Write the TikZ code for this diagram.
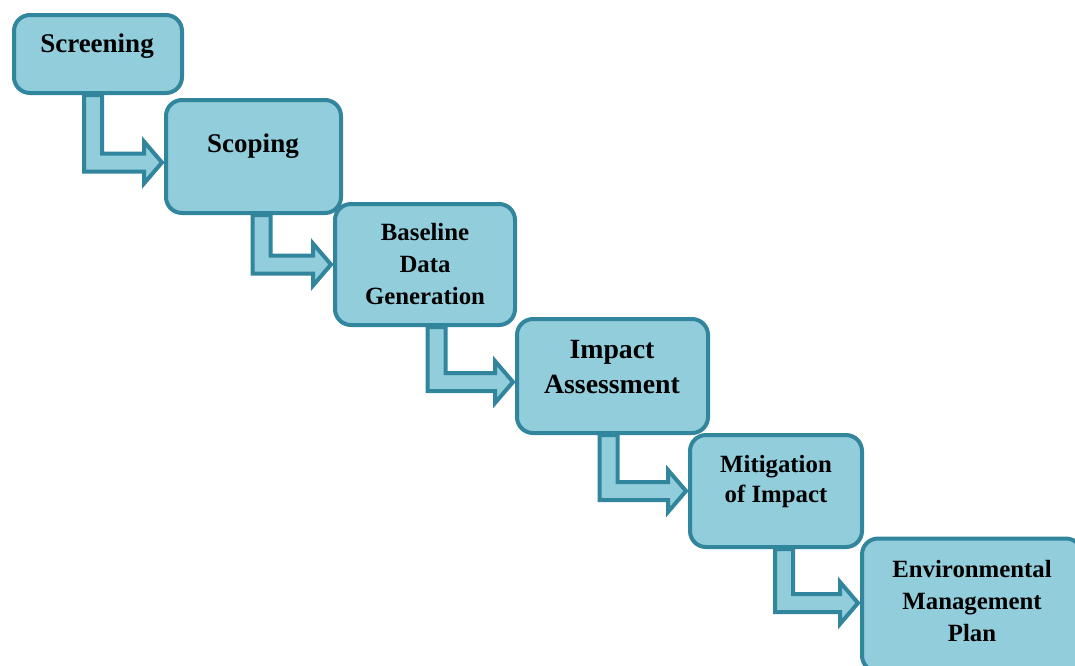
\documentclass[tikz,border=0pt]{standalone}
\usepackage{fontspec}
\setmainfont{Liberation Serif}
\usepackage{tikz}
\usetikzlibrary{calc,backgrounds}
\definecolor{stagefill}{RGB}{146, 205, 220}
\definecolor{stageborder}{RGB}{49, 133, 156}

\tikzset{
    stagebox/.style={draw=stageborder, fill=stagefill, line width=2pt, rounded corners=8pt, inner sep=0pt},
    stagelabel/.style={align=center, inner sep=0pt, font=\bfseries\fontsize{12.4pt}{16pt}\selectfont},
    flowarrow/.style={draw=stageborder, fill=stagefill, line width=2pt, line join=miter}
}

% #1 from, #2 to, #3 shaft shift, #4 bar shift
\newcommand{\stagearrow}[4]{%
    \filldraw[flowarrow] let \p1 = ($(#1.south)+(#3,0)$), \p2 = ($(#2.west)+(0,#4)$) in
        (\x1-4.5pt,\y1) -- (\x1-4.5pt,\y2-4.5pt) -- (\x2-10pt,\y2-4.5pt) -- (\x2-10pt,\y2-10.5pt)
        -- (\x2-1pt,\y2) -- (\x2-10pt,\y2+10.5pt) -- (\x2-10pt,\y2+4.5pt) -- (\x1+4.5pt,\y2+4.5pt)
        -- (\x1+4.5pt,\y1) -- cycle;}

\begin{document}
\begin{tikzpicture}[x=0.5pt, y=-0.5pt]
    \useasboundingbox (0,0) rectangle (1075,665);

    \node[stagebox, minimum width=84pt,   minimum height=39pt]   (scr) at ( 98.0, 54.0) {};
    \node[stagebox, minimum width=87.5pt, minimum height=56.5pt] (sco) at (253.5,156.5) {};
    \node[stagebox, minimum width=90pt,   minimum height=60.5pt] (bdg) at (425.0,264.5) {};
    \node[stagebox, minimum width=95.5pt, minimum height=57pt]   (ima) at (612.5,376.0) {};
    \node[stagebox, minimum width=86pt,   minimum height=56pt]   (mit) at (776.0,491.0) {};
    \node[stagebox, minimum width=110pt,  minimum height=66.5pt] (emp) at (972.0,605.0) {};

    \node[stagelabel, font=\bfseries\fontsize{13.5pt}{16pt}\selectfont] (scrtext) at ( 97, 46) {Screening};
    \node[stagelabel, font=\bfseries\fontsize{13.5pt}{16pt}\selectfont] (scotext) at (253,146) {Scoping};
    \node[stagelabel] (bdgtext) at (425,264) {Baseline\\Data\\Generation};
    \node[stagelabel, font=\bfseries\fontsize{13.9pt}{17.5pt}\selectfont] (imatext) at (612,367) {Impact\\Assessment};
    \node[stagelabel, font=\bfseries\fontsize{12.4pt}{15pt}\selectfont] (mittext) at (776,482) {Mitigation\\of Impact};
    \node[stagelabel] (emptext) at (972,601) {Environmental\\Management\\Plan};

    \begin{scope}[on background layer]
        \stagearrow{scr}{sco}{-5}{6}
        \stagearrow{sco}{bdg}{8}{0}
        \stagearrow{bdg}{ima}{11.5}{6}
        \stagearrow{ima}{mit}{-4}{0}
        \stagearrow{mit}{emp}{8}{-2}
    \end{scope}
\end{tikzpicture}
\end{document}
